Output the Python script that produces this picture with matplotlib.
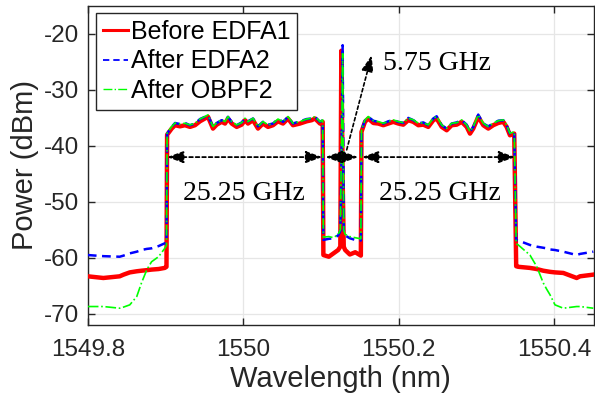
import matplotlib
matplotlib.use('Agg')
import matplotlib.pyplot as plt

# ---------------- data ----------------
wavelength = [
    # left out-of-band
    1549.800, 1549.820, 1549.841, 1549.846, 1549.854, 1549.863, 1549.869, 1549.876,
    1549.882, 1549.891, 1549.899, 1549.9012,
    # left sub-band
    1549.9020, 1549.9079, 1549.9122, 1549.9186, 1549.9250, 1549.9314, 1549.9379, 1549.9443,
    1549.9507, 1549.9546, 1549.9610, 1549.9658, 1549.9722, 1549.9765, 1549.9803, 1549.9851,
    1549.9915, 1549.9979, 1550.0022, 1550.0060, 1550.0125, 1550.0189, 1550.0253, 1550.0318,
    1550.0382, 1550.0446, 1550.0511, 1550.0575, 1550.0639, 1550.0729, 1550.0815, 1550.0880,
    1550.0922, 1550.0986, 1550.1021,
    # gap with carrier
    1550.1030, 1550.1100, 1550.1160, 1550.1220, 1550.1248, 1550.1261, 1550.1278, 1550.1292,
    1550.1310, 1550.1370, 1550.1440, 1550.1512,
    # right sub-band
    1550.1520, 1550.1565, 1550.1608, 1550.1672, 1550.1736, 1550.1801, 1550.1865, 1550.1929,
    1550.1994, 1550.2058, 1550.2122, 1550.2187, 1550.2251, 1550.2315, 1550.2379, 1550.2444,
    1550.2487, 1550.2552, 1550.2616, 1550.2680, 1550.2745, 1550.2809, 1550.2873, 1550.2916,
    1550.2958, 1550.3022, 1550.3087, 1550.3151, 1550.3215, 1550.3279, 1550.3344, 1550.3387,
    1550.3430, 1550.3485,
    # right out-of-band
    1550.3510, 1550.3537, 1550.3687, 1550.3774, 1550.3859, 1550.3902, 1550.3945, 1550.4009,
    1550.4116, 1550.4288, 1550.4331, 1550.4502,
]

p_before_edfa1 = [
    -63.3, -63.6, -63.3, -63.0, -62.6, -62.4, -62.3, -62.2, -62.1, -62.0, -61.8, -61.6,
    -38.0, -36.9, -36.3, -36.5, -36.3, -36.6, -36.3, -35.6, -35.1, -34.8, -36.9, -36.2,
    -35.7, -36.0, -35.1, -36.0, -36.6, -36.2, -35.4, -36.0, -35.4, -36.9, -36.0, -36.6,
    -36.3, -35.6, -36.0, -35.1, -36.3, -36.0, -35.6, -35.4, -35.1, -36.0, -35.7,
    -59.5, -59.8, -59.2, -58.6, -58.0, -23.0, -46.0, -58.0, -58.6, -59.4, -59.0, -59.6,
    -37.5, -35.7, -35.1, -35.9, -36.0, -36.3, -36.0, -35.7, -36.0, -36.2, -35.4, -35.7,
    -36.3, -36.2, -36.6, -35.4, -35.1, -36.6, -37.2, -36.3, -36.2, -35.7, -36.6, -37.8,
    -36.9, -34.8, -36.3, -36.9, -36.3, -35.9, -35.7, -36.6, -38.1, -37.8,
    -61.5, -61.6, -61.8, -62.0, -62.3, -62.4, -62.5, -62.6, -62.7, -63.6, -63.3, -63.0,
]

p_after_edfa2 = [
    -59.5, -59.7, -59.8, -59.6, -59.2, -58.9, -58.6, -58.4, -58.3, -57.9, -57.4, -57.3,
    -37.8, -36.6, -35.9, -36.1, -35.9, -36.3, -36.0, -35.2, -34.8, -34.5, -36.6, -35.9,
    -35.4, -35.6, -34.8, -35.7, -36.3, -35.8, -35.1, -35.6, -35.1, -36.5, -35.7, -36.2,
    -36.0, -35.2, -35.7, -34.8, -36.0, -35.6, -35.2, -35.1, -34.8, -35.7, -35.4,
    -56.8, -56.6, -56.5, -56.0, -55.2, -45.0, -22.0, -55.0, -56.0, -56.5, -56.8, -56.9,
    -37.2, -35.4, -34.8, -35.5, -35.7, -36.0, -35.6, -35.4, -35.7, -35.9, -35.0, -35.4,
    -36.0, -35.8, -36.3, -35.1, -34.7, -36.3, -36.9, -36.0, -35.8, -35.4, -36.2, -37.5,
    -36.6, -34.4, -36.0, -36.5, -36.0, -35.5, -35.4, -36.3, -37.8, -37.5,
    -56.8, -56.9, -57.7, -58.0, -58.2, -58.3, -58.5, -58.6, -58.9, -59.5, -59.3, -58.9,
]

p_after_obpf2 = [
    -68.7, -68.7, -69.0, -68.8, -68.4, -66.9, -64.5, -62.1, -60.7, -59.8, -58.3, -57.8,
    -37.7, -36.55, -35.9, -36.1, -35.95, -36.25, -35.95, -35.2, -34.75, -34.45, -36.55, -35.85,
    -35.35, -35.65, -34.75, -35.65, -36.25, -35.85, -35.05, -35.65, -35.05, -36.55, -35.65, -36.25,
    -35.95, -35.2, -35.65, -34.75, -35.95, -35.65, -35.2, -35.05, -34.75, -35.65, -35.35,
    -56.3, -56.2, -56.4, -55.8, -55.0, -42.0, -23.5, -55.0, -55.8, -56.2, -56.4, -56.6,
    -37.15, -35.35, -34.75, -35.5, -35.65, -35.95, -35.65, -35.35, -35.65, -35.85, -35.05, -35.35,
    -35.95, -35.85, -36.25, -35.05, -34.75, -36.25, -36.85, -35.95, -35.85, -35.35, -36.25, -37.45,
    -36.55, -34.45, -35.95, -36.55, -35.95, -35.5, -35.35, -36.25, -37.75, -37.45,
    -57.5, -57.7, -59.5, -61.55, -64.5, -65.6, -66.6, -68.4, -69.0, -68.7, -68.7, -69.0,
]

series_labels = ['Before EDFA1', 'After EDFA2', 'After OBPF2']
x_ticks = [1549.8, 1550.0, 1550.2, 1550.4]
x_tick_labels = ['1549.8', '1550', '1550.2', '1550.4']
y_ticks = [-70, -60, -50, -40, -30, -20]
x_label = 'Wavelength (nm)'
y_label = 'Power (dBm)'

# spacing annotations
spacing_arrow_y = -42.0
spacing_spans = [(1549.902, 1550.1015), (1550.1055, 1550.1478), (1550.1527, 1550.3496)]
spacing_texts = ['25.25 GHz', '25.25 GHz']
spacing_text_x = [1550.0009, 1550.253]
spacing_text_y = -49.6
carrier_text = '5.75 GHz'
carrier_text_xy = (1550.1796, -26.4)
carrier_arrow_from = (1550.133, -40.7)
carrier_arrow_to = (1550.1651, -23.8)

# ---------------- figure ----------------
TXT = '#262626'
plt.rcParams['font.family'] = ['Liberation Sans', 'DejaVu Sans']
plt.rcParams['axes.unicode_minus'] = False

fig = plt.figure(figsize=(5.95, 4.03), dpi=100)
ax = fig.add_axes([87.8 / 595, 1 - 325 / 403, (593.7 - 87.8) / 595, 319 / 403])

ax.plot(wavelength, p_before_edfa1, color='#FF0000', lw=3.2, ls='-',
        label=series_labels[0], zorder=3)
ax.plot(wavelength, p_after_edfa2, color='#0000FF', lw=1.8, ls=(0, (3.5, 2.2)),
        label=series_labels[1], zorder=4)
ax.plot(wavelength, p_after_obpf2, color='#00FF00', lw=1.2, ls='-.',
        label=series_labels[2], zorder=5)

ax.set_xlim(1549.8, 1550.4507)
ax.set_ylim(-72, -15)
ax.set_xticks(x_ticks)
ax.set_xticklabels(x_tick_labels)
ax.set_yticks(y_ticks)
ax.grid(True, color='#e6e6e6', lw=0.9, zorder=0)
ax.set_axisbelow(True)

ax.tick_params(direction='in', length=5, width=1.0, colors=TXT, labelsize=17.5,
               top=True, right=True, pad=6)
ax.tick_params(axis='x', pad=10)
for sp in ax.spines.values():
    sp.set_color(TXT)
    sp.set_linewidth(1.0)

ax.set_xlabel(x_label, fontsize=21, color=TXT, labelpad=3)
ax.set_ylabel(y_label, fontsize=21, color=TXT, labelpad=4)

# double arrows
for a, b in spacing_spans:
    ax.annotate('', xy=(b, spacing_arrow_y), xytext=(a, spacing_arrow_y),
                arrowprops=dict(arrowstyle='<|-|>,head_length=0.55,head_width=0.2',
                                mutation_scale=18, color='black', lw=1.3,
                                linestyle=(0, (2, 1.6)), shrinkA=0, shrinkB=0),
                zorder=6)
for tx, t in zip(spacing_text_x, spacing_texts):
    ax.text(tx, spacing_text_y, t, ha='center', va='baseline', fontsize=20,
            family=['Liberation Serif', 'DejaVu Serif'], color='black', zorder=7)

ax.annotate('', xy=carrier_arrow_to, xytext=carrier_arrow_from,
            arrowprops=dict(arrowstyle='-|>,head_length=0.55,head_width=0.2',
                            mutation_scale=18, color='black', lw=1.2,
                            linestyle=(0, (2, 1.6)), shrinkA=0, shrinkB=0),
            zorder=6)
ax.text(carrier_text_xy[0], carrier_text_xy[1], carrier_text, ha='left', va='baseline',
        fontsize=20, family=['Liberation Serif', 'DejaVu Serif'], color='black', zorder=7)

leg = ax.legend(loc='upper left', bbox_to_anchor=(8 / 505.9, 1 - 7 / 319),
                borderaxespad=0, fontsize=18, handlelength=1.0, handletextpad=0.12,
                labelspacing=0.22, borderpad=0.28, fancybox=False, framealpha=1,
                edgecolor=TXT)
leg.get_frame().set_linewidth(1.0)
leg.set_zorder(10)
for t in leg.get_texts():
    t.set_color('black')
leg_lines = leg.get_lines()
leg_lines[0].set_linewidth(2.2)
leg_lines[1].set_linewidth(1.3)
leg_lines[2].set_linewidth(1.0)

fig.savefig('out.png', dpi=100)
